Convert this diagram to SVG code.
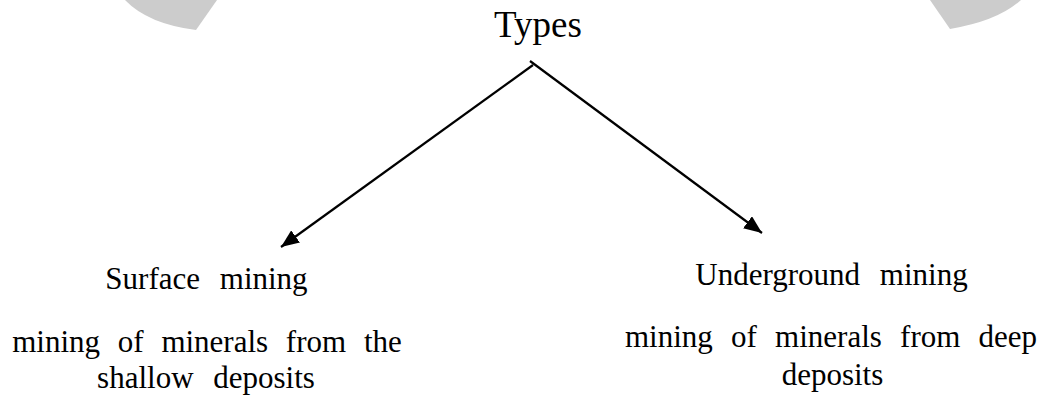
<svg xmlns="http://www.w3.org/2000/svg" width="1042" height="396" viewBox="0 0 1042 396">
<style>
text{font-family:"Liberation Serif","Times New Roman",serif;fill:#000;text-anchor:middle}
.t{font-size:37px}
.n{font-size:31px}
.c{stroke:#000;stroke-width:2.2;fill:none}
.bg{fill:#cccccc}
</style>
<defs>
<marker id="arr" viewBox="0 0 18 15" refX="18" refY="7.5" markerWidth="18" markerHeight="15" markerUnits="userSpaceOnUse" orient="auto">
<path d="M0,0 L18,7.5 L0,15 Z" fill="#000"/>
</marker>
</defs>
<rect width="1042" height="396" fill="#fff"/>
<path class="bg" d="M125,0 Q148,24 196,30 L217,0 Z"/>
<path class="bg" d="M930,0 L950,29 Q998,21 1021,0 Z"/>
<g id="connectors">
<line class="c" x1="530" y1="61" x2="762" y2="233" marker-end="url(#arr)"/>
<line class="c" x1="533" y1="65" x2="281" y2="247" marker-end="url(#arr)"/>
</g>
<g id="types"><text class="t" x="538" y="37">Types</text></g>
<g id="surface">
<text class="n" x="206.5" y="289" word-spacing="12">Surface mining</text>
<text class="n" x="207" y="352" word-spacing="10">mining of minerals from the</text>
<text class="n" x="206" y="388" word-spacing="12">shallow deposits</text>
</g>
<g id="underground">
<text class="n" x="831.5" y="285" word-spacing="12">Underground mining</text>
<text class="n" x="831" y="347" word-spacing="10.5">mining of minerals from deep</text>
<text class="n" x="832.5" y="385">deposits</text>
</g>
</svg>
